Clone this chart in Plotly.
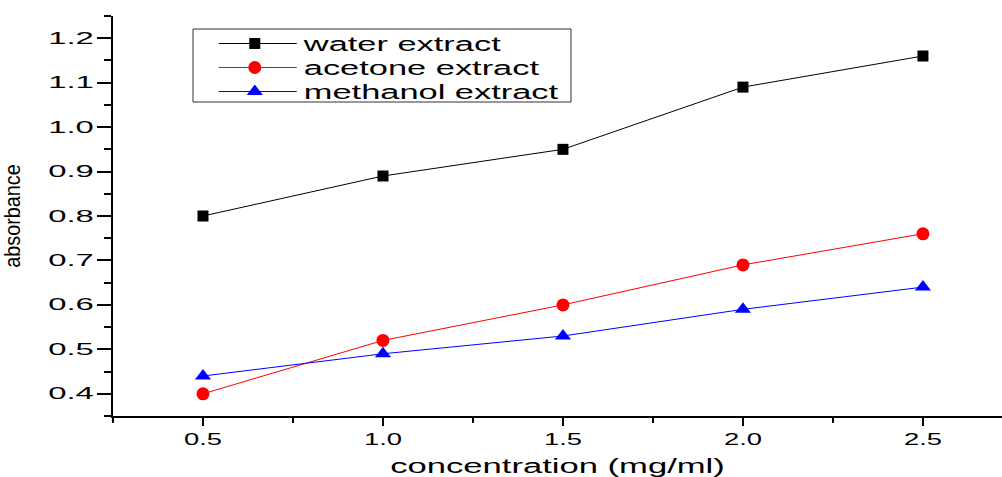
import plotly.graph_objects as go

conc = [0.5, 1.0, 1.5, 2.0, 2.5]
water = [0.80, 0.89, 0.95, 1.09, 1.16]
acetone = [0.40, 0.52, 0.60, 0.69, 0.76]
methanol = [0.44, 0.49, 0.53, 0.59, 0.64]
names = ["water extract", "acetone extract", "methanol extract"]
x_ticks = [0.5, 1.0, 1.5, 2.0, 2.5]
y_ticks = [0.4, 0.5, 0.6, 0.7, 0.8, 0.9, 1.0, 1.1, 1.2]

FONT = "Liberation Sans, Arial, sans-serif"

fig = go.Figure()
fig.add_trace(go.Scatter(x=conc, y=water, name=names[0], mode="lines+markers",
                         line=dict(color="black", width=1),
                         marker=dict(symbol="square", size=11, color="black")))
fig.add_trace(go.Scatter(x=conc, y=acetone, name=names[1], mode="lines+markers",
                         line=dict(color="#ff0000", width=1),
                         marker=dict(symbol="circle", size=13, color="#ff0000")))
fig.add_trace(go.Scatter(x=conc, y=methanol, name=names[2], mode="lines+markers",
                         line=dict(color="#0000ff", width=1),
                         marker=dict(symbol="triangle-up", size=14, color="#0000ff")))

fig.update_layout(
    width=1002, height=477,
    margin=dict(l=113, r=0, t=16, b=61, autoexpand=False),
    paper_bgcolor="white", plot_bgcolor="white",
    font=dict(family=FONT, color="black"),
    showlegend=True,
    legend=dict(x=0.137, y=0.98, xanchor="left", yanchor="top",
                bgcolor="rgba(0,0,0,0)", borderwidth=0,
                font=dict(size=20, family=FONT, color="black"),
                tracegroupgap=0),
    shapes=[dict(type="rect", xref="paper", yref="paper",
                 x0=0.09, x1=0.5152, y0=0.785, y1=0.9675,
                 line=dict(color="#333333", width=1))],
)

fig.update_xaxes(
    range=[0.25, 2.7196], showgrid=False, zeroline=False, automargin=False,
    showline=True, linecolor="black", linewidth=2,
    tickvals=x_ticks, ticktext=[f"{v:.1f}" for v in x_ticks],
    ticks="outside", ticklen=8, tickwidth=2, tickcolor="black",
    tickfont=dict(size=16, family=FONT, color="black"),
    minor=dict(dtick=0.25, tick0=0.25, ticks="outside", ticklen=5, tickwidth=2, tickcolor="black"),
    title=dict(text="concentration (mg/ml)", font=dict(size=20, family=FONT, color="black"), standoff=13),
)
fig.update_yaxes(
    range=[0.35, 1.25], showgrid=False, zeroline=False, automargin=False,
    showline=True, linecolor="black", linewidth=2,
    tickvals=y_ticks, ticktext=[f"{v:.1f}" for v in y_ticks],
    ticks="outside", ticklen=14, tickwidth=2, tickcolor="black",
    tickfont=dict(size=16, family=FONT, color="black"),
    minor=dict(dtick=0.05, tick0=0.35, ticks="outside", ticklen=7, tickwidth=2, tickcolor="black"),
    title=dict(text="absorbance", font=dict(size=22, family=FONT, color="black"), standoff=46),
)

post = """
document.body.style.margin = '0';
var gd = document.getElementById('{plot_id}');
function stretchSet(sel, f) {
  gd.querySelectorAll(sel).forEach(function (t) {
    t.removeAttribute('textLength');
    t.removeAttribute('lengthAdjust');
    var w = t.getComputedTextLength();
    t.setAttribute('textLength', (w * f).toFixed(2));
    t.setAttribute('lengthAdjust', 'spacingAndGlyphs');
  });
}
function restyleText() {
  stretchSet('.xtick text', 1.71);
  stretchSet('.ytick text', 2.05);
  stretchSet('.legendtext', 1.72);
  stretchSet('.g-xtitle text', 1.73);
  stretchSet('.g-ytitle text', 0.9);
  gd.querySelectorAll('.legend [clip-path]').forEach(function (e) {
    e.removeAttribute('clip-path');
  });
  gd.querySelectorAll('.legendlines path').forEach(function (p) {
    p.setAttribute('d', 'M-16,0h78');
  });
  gd.querySelectorAll('.legendtext').forEach(function (t) {
    t.setAttribute('x', '69');
  });
  var b0 = null;
  gd.querySelectorAll('.legend .traces').forEach(function (g, i) {
    var tr = g.getAttribute('transform') || '';
    var m = tr.match(/translate\\(\\s*([-\\d.e]+)[ ,]+([-\\d.e]+)\\s*\\)/);
    if (!m) return;
    var a = parseFloat(m[1]), b = parseFloat(m[2]);
    if (b0 === null) b0 = b;
    g.setAttribute('transform', 'translate(' + a + ',' + (b0 + i * 24) + ')');
  });
}
restyleText();
gd.on('plotly_afterplot', restyleText);
"""

fig.write_html("out.html", post_script=post, config={"displayModeBar": False})
